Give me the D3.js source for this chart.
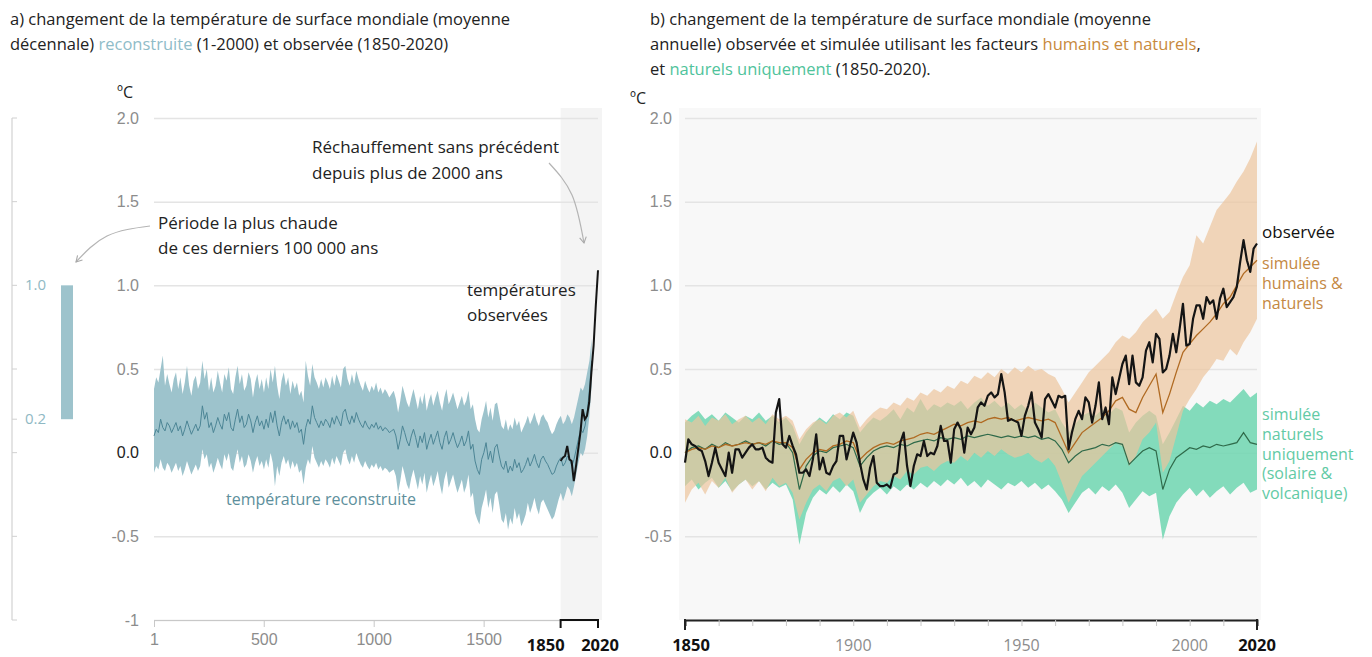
<!DOCTYPE html>
<html>
<head>
<meta charset="utf-8">
<script src="https://cdn.jsdelivr.net/npm/d3@7"></script>
<style>
  body { margin: 0; background: #fff; }
  svg { font-family: "Open Sans", Lato, sans-serif; }
</style>
</head>
<body>
<svg id="chart" width="1372" height="657"></svg>
<script>
// ---------- data ----------
var yTickVals = [-1, -0.5, 0, 0.5, 1, 1.5, 2];
var yTickLabels = ["-1", "-0.5", "0.0", "0.5", "1.0", "1.5", "2.0"];
var xTicksA = [1, 500, 1000, 1500];
var xTicksB = [1900, 1950, 2000];

// panel a: reconstruction, decadal, years 1, 11, 21 ... 1991
var reconMean = [
  0.10, 0.14, 0.12, 0.20, 0.15, 0.13, 0.18, 0.16, 0.12, 0.15,
  0.18, 0.13, 0.16, 0.10, 0.14, 0.19, 0.15, 0.11, 0.14, 0.17,
  0.13, 0.16, 0.28, 0.20, 0.24, 0.15, 0.18, 0.12, 0.16, 0.21,
  0.17, 0.14, 0.23, 0.19, 0.24, 0.15, 0.13, 0.20, 0.26, 0.18,
  0.22, 0.15, 0.17, 0.23, 0.19, 0.12, 0.18, 0.22, 0.16, 0.19,
  0.14, 0.20, 0.15, 0.24, 0.18, 0.25, 0.16, 0.10, 0.18, 0.22,
  0.17, 0.20, 0.14, 0.19, 0.15, 0.18, 0.12, 0.14, 0.05, 0.15,
  0.20, 0.17, 0.28, 0.21, 0.18, 0.15, 0.19, 0.16, 0.20, 0.18,
  0.15, 0.21, 0.17, 0.22, 0.19, 0.16, 0.24, 0.26, 0.20, 0.17,
  0.22, 0.18, 0.24, 0.20, 0.17, 0.15, 0.19, 0.16, 0.14, 0.17,
  0.15, 0.18, 0.14, 0.16, 0.13, 0.15, 0.14, 0.12, 0.13, 0.14,
  0.10, 0.02, 0.08, 0.16, 0.12, 0.07, 0.04, 0.10, 0.14, 0.09,
  0.03, 0.10, 0.06, 0.12, 0.02, 0.07, 0.11, 0.05, 0.09, 0.13,
  0.06, 0.02, 0.09, 0.13, 0.05, 0.08, 0.12, 0.07, 0.03, 0.06,
  0.10, 0.04, 0.07, 0.13, 0.02, 0.05, -0.05, -0.10, -0.13, -0.04,
  0.00, 0.06, -0.04, 0.01, -0.06, 0.03, 0.05, -0.02, -0.08, -0.10,
  -0.05, -0.12, -0.08, -0.11, -0.04, -0.09, -0.06, -0.12, -0.10, -0.07,
  -0.03, -0.08, -0.05, -0.01, -0.06, -0.09, -0.04, -0.02, -0.05, -0.07,
  -0.10, -0.13, -0.12, -0.08, -0.05, -0.03, -0.08, -0.06, -0.02, -0.04,
  -0.08, -0.04, 0.02, 0.08, 0.14, 0.12, 0.16, 0.24, 0.38, 0.55
];
var reconHi = [
  0.38, 0.45, 0.42, 0.50, 0.58, 0.40, 0.47, 0.41, 0.36, 0.44,
  0.48, 0.38, 0.45, 0.35, 0.42, 0.52, 0.40, 0.34, 0.43, 0.46,
  0.38, 0.42, 0.55, 0.44, 0.50, 0.37, 0.45, 0.36, 0.40, 0.49,
  0.42, 0.36, 0.47, 0.43, 0.51, 0.38, 0.35, 0.45, 0.52, 0.41,
  0.47, 0.37, 0.40, 0.48, 0.44, 0.33, 0.42, 0.47, 0.38, 0.44,
  0.36, 0.45, 0.38, 0.50, 0.42, 0.52, 0.40, 0.32, 0.43, 0.48,
  0.40, 0.45, 0.35, 0.43, 0.38, 0.42, 0.34, 0.37, 0.30, 0.55,
  0.46, 0.40, 0.53, 0.45, 0.42, 0.38, 0.44, 0.39, 0.45, 0.42,
  0.38, 0.46, 0.40, 0.47, 0.43, 0.39, 0.50, 0.52, 0.44, 0.40,
  0.47, 0.41, 0.49, 0.44, 0.40, 0.37, 0.43, 0.39, 0.36, 0.40,
  0.37, 0.42, 0.36, 0.39, 0.35, 0.38, 0.36, 0.33, 0.35, 0.37,
  0.32, 0.24, 0.31, 0.40, 0.35, 0.30, 0.27, 0.33, 0.38, 0.32,
  0.26, 0.34, 0.29, 0.36, 0.25, 0.31, 0.35, 0.28, 0.33, 0.37,
  0.30, 0.25, 0.33, 0.38, 0.29, 0.32, 0.36, 0.31, 0.26, 0.30,
  0.34, 0.28, 0.31, 0.37, 0.26, 0.29, 0.20, 0.14, 0.12, 0.20,
  0.25, 0.31, 0.21, 0.27, 0.19, 0.29, 0.30, 0.23, 0.16, 0.14,
  0.20, 0.13, 0.17, 0.14, 0.21, 0.16, 0.19, 0.12, 0.15, 0.18,
  0.22, 0.17, 0.20, 0.24, 0.19, 0.16, 0.21, 0.23, 0.20, 0.18,
  0.14, 0.11, 0.13, 0.17, 0.20, 0.22, 0.17, 0.19, 0.23, 0.21,
  0.17, 0.21, 0.27, 0.33, 0.39, 0.37, 0.41, 0.48, 0.55, 0.68
];
var reconLo = [
  -0.12, -0.08, -0.10, -0.04, -0.09, -0.11, -0.06, -0.08, -0.12, -0.09,
  -0.06, -0.11, -0.08, -0.14, -0.10, -0.05, -0.09, -0.13, -0.10, -0.07,
  -0.11, -0.08, 0.02, -0.04, -0.01, -0.09, -0.06, -0.12, -0.08, -0.03,
  -0.07, -0.10, -0.01, -0.05, 0.00, -0.09, -0.11, -0.04, 0.02, -0.06,
  -0.02, -0.09, -0.07, -0.01, -0.05, -0.12, -0.06, -0.02, -0.08, -0.05,
  -0.10, -0.04, -0.09, 0.00, -0.06, -0.20, -0.08, -0.14, -0.06, -0.02,
  -0.07, -0.04, -0.10, -0.05, -0.09, -0.06, -0.12, -0.10, -0.19, -0.09,
  -0.04, -0.07, 0.04, -0.03, -0.06, -0.09, -0.05, -0.08, -0.04, -0.06,
  -0.09, -0.03, -0.07, -0.02, -0.05, -0.08, 0.00, 0.02, -0.04, -0.07,
  -0.02, -0.06, 0.00, -0.04, -0.07, -0.09, -0.05, -0.08, -0.10, -0.07,
  -0.09, -0.06, -0.10, -0.08, -0.11, -0.09, -0.10, -0.12, -0.11, -0.10,
  -0.14, -0.24, -0.17, -0.08, -0.13, -0.19, -0.22, -0.15, -0.10, -0.16,
  -0.22, -0.14, -0.19, -0.12, -0.24, -0.18, -0.13, -0.20, -0.16, -0.11,
  -0.19, -0.25, -0.16, -0.11, -0.21, -0.17, -0.13, -0.19, -0.24, -0.20,
  -0.16, -0.24, -0.20, -0.13, -0.27, -0.24, -0.36, -0.40, -0.43, -0.33,
  -0.28, -0.22, -0.33, -0.27, -0.36, -0.25, -0.23, -0.31, -0.40, -0.42,
  -0.36, -0.46, -0.39, -0.43, -0.33, -0.40, -0.36, -0.44, -0.41, -0.37,
  -0.30, -0.36, -0.32, -0.27, -0.33, -0.37, -0.30, -0.28, -0.31, -0.34,
  -0.37, -0.40, -0.38, -0.33, -0.28, -0.24, -0.29, -0.25, -0.20, -0.22,
  -0.26, -0.20, -0.13, -0.06, 0.00, -0.02, 0.02, 0.10, 0.22, 0.40
];
// panel a: observed decadal means, 1850 ... 2020
var obsDecYears = [1850, 1860, 1870, 1880, 1890, 1900, 1910, 1920, 1930, 1940, 1950, 1960, 1970, 1980, 1990, 2000, 2010, 2020];
var obsDecimal = [-0.05, -0.03, -0.02, 0.04, -0.04, -0.05, -0.17, -0.08, 0.02, 0.12, 0.26, 0.20, 0.22, 0.30, 0.48, 0.64, 0.88, 1.09];

// panel b: observed annual 1850-2020
var obsAnnual = [
  -0.06, 0.08, 0.05, 0.04, 0.02, 0.01, -0.05, -0.14, -0.06, 0.03,
  -0.06, -0.10, -0.14, 0.00, -0.12, 0.02, 0.02, -0.03, 0.00, 0.03,
  0.05, 0.02, 0.02, 0.03, -0.03, -0.05, -0.06, 0.24, 0.32, 0.05,
  0.03, 0.10, 0.04, -0.01, -0.12, -0.12, -0.10, -0.14, -0.04, 0.11,
  -0.10, -0.03, -0.12, -0.13, -0.08, -0.05, 0.10, 0.10, -0.04, 0.04,
  0.12, 0.06, -0.06, -0.16, -0.22, -0.09, -0.02, -0.18, -0.20, -0.20,
  -0.19, -0.21, -0.13, -0.12, 0.06, 0.12, -0.08, -0.20, -0.08, -0.01,
  -0.02, 0.07, -0.02, 0.00, -0.01, 0.04, 0.16, 0.07, 0.07, -0.06,
  0.14, 0.18, 0.14, 0.00, 0.15, 0.11, 0.15, 0.27, 0.30, 0.28,
  0.34, 0.36, 0.33, 0.35, 0.47, 0.36, 0.19, 0.20, 0.19, 0.18,
  0.10, 0.22, 0.28, 0.36, 0.18, 0.14, 0.09, 0.32, 0.35, 0.31,
  0.27, 0.34, 0.33, 0.34, 0.02, 0.12, 0.20, 0.25, 0.20, 0.33,
  0.30, 0.18, 0.28, 0.42, 0.20, 0.27, 0.17, 0.45, 0.35, 0.44,
  0.53, 0.58, 0.41, 0.58, 0.42, 0.40, 0.45, 0.61, 0.66, 0.54,
  0.71, 0.68, 0.48, 0.50, 0.58, 0.71, 0.60, 0.74, 0.89, 0.64,
  0.65, 0.80, 0.88, 0.88, 0.80, 0.93, 0.89, 0.91, 0.80, 0.92,
  0.98, 0.87, 0.90, 0.93, 0.99, 1.14, 1.27, 1.15, 1.08, 1.22,
  1.25
];
// panel b: simulations, every 2 years 1850-2020
var hnMean = [
  0.00, 0.02, 0.03, 0.02, 0.04, 0.03, 0.05, 0.04, 0.05, 0.06,
  0.05, 0.06, 0.05, 0.07, 0.06, 0.06, 0.03, -0.10, -0.04, 0.00,
  0.02, 0.01, 0.04, 0.05, 0.07, 0.06, -0.04, 0.00, 0.03, 0.05,
  0.06, 0.05, 0.07, 0.08, 0.09, 0.11, 0.12, 0.11, 0.13, 0.15,
  0.17, 0.16, 0.18, 0.19, 0.18, 0.20, 0.21, 0.20, 0.21, 0.19,
  0.20, 0.21, 0.20, 0.19, 0.20, 0.18, 0.09, 0.00, 0.06, 0.12,
  0.15, 0.18, 0.21, 0.25, 0.31, 0.33, 0.26, 0.24, 0.33, 0.40,
  0.47, 0.24, 0.35, 0.48, 0.60, 0.65, 0.70, 0.74, 0.78, 0.83,
  0.89, 0.93, 1.00, 1.07, 1.11, 1.15
];
var hnHi = [
  0.20, 0.18, 0.22, 0.16, 0.21, 0.19, 0.23, 0.17, 0.20, 0.22,
  0.18, 0.21, 0.17, 0.23, 0.20, 0.22, 0.19, 0.08, 0.14, 0.18,
  0.20, 0.17, 0.22, 0.24, 0.21, 0.25, 0.15, 0.20, 0.24, 0.27,
  0.26, 0.30, 0.28, 0.33, 0.31, 0.36, 0.34, 0.38, 0.36, 0.40,
  0.38, 0.43, 0.41, 0.46, 0.44, 0.48, 0.45, 0.50, 0.47, 0.51,
  0.48, 0.52, 0.49, 0.50, 0.47, 0.45, 0.38, 0.30, 0.36, 0.42,
  0.48, 0.52, 0.56, 0.60, 0.66, 0.70, 0.68, 0.72, 0.78, 0.82,
  0.86, 0.80, 0.84, 0.95, 1.05, 1.12, 1.30, 1.25, 1.35, 1.45,
  1.50, 1.55, 1.62, 1.68, 1.76, 1.86
];
var hnLo = [
  -0.30, -0.22, -0.18, -0.25, -0.17, -0.21, -0.15, -0.24, -0.19, -0.16,
  -0.22, -0.17, -0.23, -0.15, -0.20, -0.18, -0.24, -0.40, -0.30, -0.22,
  -0.19, -0.23, -0.17, -0.15, -0.20, -0.16, -0.30, -0.25, -0.20, -0.17,
  -0.18, -0.14, -0.16, -0.11, -0.13, -0.09, -0.08, -0.11, -0.07, -0.05,
  -0.06, -0.02, -0.05, 0.00, -0.03, 0.01, -0.02, 0.02, -0.01, -0.03,
  -0.02, 0.00, -0.04, -0.06, -0.03, -0.08, -0.18, -0.30, -0.22, -0.14,
  -0.10, -0.06, -0.02, 0.02, 0.06, 0.04, -0.08, -0.02, 0.08, 0.12,
  0.18, -0.12, -0.05, 0.10, 0.25, 0.32, 0.38, 0.45, 0.50, 0.56,
  0.55, 0.62, 0.58, 0.66, 0.72, 0.80
];
var natMean = [
  0.00, 0.03, 0.04, 0.02, 0.05, 0.03, 0.06, 0.04, 0.05, 0.07,
  0.05, 0.06, 0.04, 0.07, 0.05, 0.06, 0.00, -0.22, -0.08, -0.02,
  0.01, 0.00, 0.03, 0.04, 0.05, 0.03, -0.08, -0.03, 0.01, 0.03,
  0.04, 0.03, 0.05, 0.04, 0.06, 0.07, 0.08, 0.07, 0.09, 0.08,
  0.09, 0.08, 0.10, 0.09, 0.10, 0.11, 0.10, 0.09, 0.10, 0.09,
  0.10, 0.09, 0.10, 0.08, 0.09, 0.07, 0.02, -0.06, -0.02, 0.01,
  0.02, 0.03, 0.05, 0.04, 0.06, 0.05, -0.07, -0.03, 0.01, 0.03,
  0.01, -0.22, -0.10, -0.03, 0.00, 0.03, 0.02, 0.04, 0.03, 0.05,
  0.04, 0.05, 0.06, 0.12, 0.06, 0.05
];
var natHi = [
  0.18, 0.22, 0.25, 0.20, 0.23, 0.19, 0.24, 0.21, 0.18, 0.22,
  0.20, 0.24, 0.19, 0.22, 0.18, 0.21, 0.16, 0.05, 0.12, 0.17,
  0.21, 0.18, 0.23, 0.20, 0.24, 0.22, 0.12, 0.17, 0.21, 0.19,
  0.22, 0.26, 0.20, 0.27, 0.24, 0.32, 0.25, 0.29, 0.27, 0.30,
  0.28, 0.31, 0.26, 0.30, 0.33, 0.28, 0.31, 0.27, 0.30, 0.26,
  0.29, 0.25, 0.30, 0.27, 0.24, 0.26, 0.18, 0.12, 0.17, 0.22,
  0.24, 0.22, 0.26, 0.23, 0.27, 0.25, 0.12, 0.18, 0.22, 0.25,
  0.22, 0.05, 0.12, 0.20, 0.28, 0.25, 0.30, 0.27, 0.31, 0.29,
  0.32, 0.30, 0.34, 0.38, 0.33, 0.36
];
var natLo = [
  -0.20, -0.16, -0.22, -0.18, -0.15, -0.21, -0.17, -0.23, -0.19, -0.16,
  -0.20, -0.17, -0.22, -0.18, -0.21, -0.19, -0.28, -0.55, -0.36, -0.27,
  -0.22, -0.25, -0.20, -0.24, -0.19, -0.23, -0.36, -0.28, -0.24, -0.21,
  -0.25, -0.20, -0.23, -0.19, -0.22, -0.18, -0.21, -0.17, -0.20, -0.16,
  -0.19, -0.15, -0.20, -0.17, -0.21, -0.16, -0.19, -0.22, -0.18, -0.20,
  -0.17, -0.21, -0.18, -0.22, -0.19, -0.23, -0.28, -0.36, -0.30, -0.24,
  -0.21, -0.25, -0.20, -0.23, -0.19, -0.24, -0.33, -0.28, -0.23, -0.26,
  -0.24, -0.52, -0.38, -0.30, -0.25, -0.21, -0.26, -0.22, -0.27, -0.23,
  -0.20, -0.25, -0.21, -0.18, -0.24, -0.22
];
// mini bar: warmest period of last 100 000 years
var warmRange = [0.2, 1.0];

var reconYears = d3.range(1, 2001, 10);
var annualYears = d3.range(1850, 2021);
var simYears = d3.range(1850, 2021, 2);

// ---------- setup ----------
var svg = d3.select("#chart");
var grey = "#8c8c8c";
var labelY = 651;

var defs = svg.append("defs");
defs.append("marker")
  .attr("id", "arr")
  .attr("viewBox", "0 0 10 10")
  .attr("refX", 8).attr("refY", 5)
  .attr("markerWidth", 7).attr("markerHeight", 7)
  .attr("orient", "auto")
  .append("path")
  .attr("d", "M1,1 L8,5 L1,9")
  .attr("fill", "none")
  .attr("stroke", "#a8a8a8")
  .attr("stroke-width", 1.3);

// scales
var yS = d3.scaleLinear().domain([-1, 2]).range([620, 118]);
var xA = d3.scaleLinear().domain([1, 2020]).range([154, 598]);
var xB = d3.scaleLinear().domain([1850, 2020]).range([685, 1257]);

function fmtY(d) { return yTickLabels[yTickVals.indexOf(d)]; }

// ---------- panel a ----------
var gA = svg.append("g");

gA.append("rect")
  .attr("x", xA(1850)).attr("y", 108)
  .attr("width", xA(2020) - xA(1850) + 4).attr("height", yS(-1) - 108)
  .attr("fill", "#f4f4f4");

var axA = gA.append("g")
  .attr("transform", "translate(" + xA(1) + ",0)")
  .call(d3.axisLeft(yS).tickValues(yTickVals).tickFormat(fmtY)
    .tickSize(-(xA(2020) - xA(1))).tickPadding(15));
axA.select(".domain").remove();
axA.selectAll("line").attr("stroke", "#e4e4e4").attr("stroke-width", 1.5);
axA.selectAll("text")
  .attr("font-size", 16)
  .attr("fill", function(d) { return d === 0 ? "#222" : grey; });

// band + mean
var reconArea = d3.area()
  .x(function(d, i) { return xA(reconYears[i]); })
  .y0(function(d, i) { return yS(reconLo[i]); })
  .y1(function(d, i) { return yS(reconHi[i]); });
gA.append("path").datum(reconMean)
  .attr("d", reconArea)
  .attr("fill", "#9dc3cc");
gA.append("path").datum(reconMean)
  .attr("d", d3.line()
    .x(function(d, i) { return xA(reconYears[i]); })
    .y(function(d) { return yS(d); }))
  .attr("fill", "none")
  .attr("stroke", "#4c8595")
  .attr("stroke-width", 1);
gA.append("path").datum(obsDecimal)
  .attr("d", d3.line()
    .x(function(d, i) { return xA(obsDecYears[i]); })
    .y(function(d) { return yS(d); }))
  .attr("fill", "none")
  .attr("stroke", "#151515")
  .attr("stroke-width", 2);

// x axis a
var xAxA = gA.append("g")
  .attr("transform", "translate(0," + yS(-1) + ")")
  .call(d3.axisBottom(xA).tickValues(xTicksA).tickFormat(d3.format("d")).tickSize(7).tickPadding(7));
xAxA.select(".domain").attr("stroke", "#c8c8c8");
xAxA.selectAll("line").attr("stroke", "#c8c8c8");
xAxA.selectAll("text").attr("font-size", 16).attr("fill", grey);

// bracket 1850-2020
gA.append("path")
  .attr("d", "M" + xA(1850) + "," + (yS(-1) + 8) + "V" + yS(-1) + "H" + xA(2020) + "V" + (yS(-1) + 8))
  .attr("fill", "none").attr("stroke", "#111").attr("stroke-width", 2);
gA.selectAll(".bl").data([1850, 2020]).enter().append("text")
  .attr("x", function(d) { return xA(d); })
  .attr("y", labelY)
  .attr("text-anchor", function(d) { return d === 1850 ? "end" : "middle"; })
  .attr("dx", function(d) { return d === 1850 ? 4 : 2; })
  .attr("font-size", 16.5).attr("font-weight", "bold").attr("fill", "#111")
  .text(function(d) { return d; });

// mini bar axis on the far left
var gM = svg.append("g");
gM.append("line")
  .attr("x1", 12).attr("x2", 12).attr("y1", yS(2)).attr("y2", yS(-1))
  .attr("stroke", "#d6d6d6").attr("stroke-width", 1.3);
gM.selectAll(".mt").data(yTickVals.concat([warmRange[0]])).enter().append("line")
  .attr("x1", 12).attr("x2", 17)
  .attr("y1", function(d) { return yS(d); }).attr("y2", function(d) { return yS(d); })
  .attr("stroke", "#d0d0d0");
gM.append("rect")
  .attr("x", 61).attr("width", 12)
  .attr("y", yS(warmRange[1])).attr("height", yS(warmRange[0]) - yS(warmRange[1]))
  .attr("fill", "#9dc3cc");
gM.selectAll(".ml").data(warmRange).enter().append("text")
  .attr("x", 25).attr("y", function(d) { return yS(d) + 5; })
  .attr("font-size", 15).attr("fill", "#8fb9c4")
  .text(function(d) { return d.toFixed(1); });

// annotations a
function addText(g, x, y, lines, size, color, lh) {
  var t = g.append("text").attr("x", x).attr("y", y)
    .attr("font-size", size).attr("fill", color);
  lines.forEach(function(s, i) {
    t.append("tspan").attr("x", x).attr("dy", i === 0 ? 0 : lh).text(s);
  });
  return t;
}
addText(gA, 312, 153, ["Réchauffement sans précédent", "depuis plus de 2000 ans"], 17, "#222", 26);
addText(gA, 158, 229, ["Période la plus chaude", "de ces derniers 100 000 ans"], 17, "#222", 25);
addText(gA, 467, 296, ["températures", "observées"], 17, "#222", 25);
addText(gA, 226, 505, ["température reconstruite"], 16, "#5d8f9c", 0);

var curve = d3.line().curve(d3.curveNatural);
gA.append("path")
  .attr("d", curve([[549, 163], [572, 195], [584, 243]]))
  .attr("fill", "none").attr("stroke", "#b4b4b4").attr("stroke-width", 1.2)
  .attr("marker-end", "url(#arr)");
gA.append("path")
  .attr("d", curve([[150, 226], [107, 236], [76, 262]]))
  .attr("fill", "none").attr("stroke", "#b4b4b4").attr("stroke-width", 1.2)
  .attr("marker-end", "url(#arr)");

// units
svg.append("text").attr("x", 117).attr("y", 98).attr("font-size", 16).attr("fill", "#222").text("ºC");
svg.append("text").attr("x", 630).attr("y", 104).attr("font-size", 16).attr("fill", "#222").text("ºC");

// titles
var tA = svg.append("text").attr("x", 10).attr("y", 25).attr("font-size", 16.5).attr("fill", "#222");
tA.append("tspan").attr("x", 10).text("a) changement de la température de surface mondiale (moyenne");
var tA2 = svg.append("text").attr("x", 10).attr("y", 50).attr("font-size", 16.5).attr("fill", "#222");
tA2.append("tspan").text("décennale) ");
tA2.append("tspan").attr("fill", "#8fbcc8").text("reconstruite");
tA2.append("tspan").text(" (1-2000) et observée (1850-2020)");

var tB = svg.append("text").attr("x", 650).attr("y", 25).attr("font-size", 16.5).attr("fill", "#222")
  .text("b) changement de la température de surface mondiale (moyenne");
var tB2 = svg.append("text").attr("x", 650).attr("y", 50).attr("font-size", 16.5).attr("fill", "#222");
tB2.append("tspan").text("annuelle) observée et simulée utilisant les facteurs ");
tB2.append("tspan").attr("fill", "#c8893c").text("humains et naturels");
tB2.append("tspan").text(",");
var tB3 = svg.append("text").attr("x", 650).attr("y", 75).attr("font-size", 16.5).attr("fill", "#222");
tB3.append("tspan").text("et ");
tB3.append("tspan").attr("fill", "#4fc39b").text("naturels uniquement");
tB3.append("tspan").text(" (1850-2020).");

// ---------- panel b ----------
var gB = svg.append("g");
gB.append("rect")
  .attr("x", xB(1850) - 6).attr("y", 108)
  .attr("width", xB(2020) - xB(1850) + 10).attr("height", yS(-1) - 108)
  .attr("fill", "#f8f8f8");

var axB = gB.append("g")
  .attr("transform", "translate(" + xB(1850) + ",0)")
  .call(d3.axisLeft(yS).tickValues(yTickVals)
    .tickFormat(function(d) { return d === -1 ? "" : fmtY(d); })
    .tickSize(-(xB(2020) - xB(1850))).tickPadding(13));
axB.select(".domain").remove();
axB.selectAll("line").attr("stroke", "#e4e4e4").attr("stroke-width", 1.5);
axB.selectAll("text")
  .attr("font-size", 16)
  .attr("fill", function(d) { return d === 0 ? "#222" : grey; });

function band(lo, hi) {
  return d3.area()
    .x(function(d, i) { return xB(simYears[i]); })
    .y0(function(d, i) { return yS(lo[i]); })
    .y1(function(d, i) { return yS(hi[i]); });
}
function simLine() {
  return d3.line()
    .x(function(d, i) { return xB(simYears[i]); })
    .y(function(d) { return yS(d); });
}
gB.append("path").datum(natMean).attr("d", band(natLo, natHi))
  .attr("fill", "#6fd6b0").attr("opacity", 0.85);
gB.append("path").datum(hnMean).attr("d", band(hnLo, hnHi))
  .attr("fill", "#ecc59c").attr("opacity", 0.7);
gB.append("path").datum(natMean).attr("d", simLine())
  .attr("fill", "none").attr("stroke", "#2f6a4a").attr("stroke-width", 1.2);
gB.append("path").datum(hnMean).attr("d", simLine())
  .attr("fill", "none").attr("stroke", "#b06a22").attr("stroke-width", 1.3);
gB.append("path").datum(obsAnnual)
  .attr("d", d3.line()
    .x(function(d, i) { return xB(annualYears[i]); })
    .y(function(d) { return yS(d); }))
  .attr("fill", "none").attr("stroke", "#141414").attr("stroke-width", 2.2)
  .attr("stroke-linejoin", "round");

// x axis b
var xAxB = gB.append("g")
  .attr("transform", "translate(0," + yS(-1) + ")")
  .call(d3.axisBottom(xB).tickValues(d3.range(1860, 2020, 10)).tickSize(6).tickFormat(""));
xAxB.select(".domain").attr("stroke", "#222").attr("stroke-width", 2);
xAxB.selectAll("line").attr("stroke", "#c8c8c8");
gB.selectAll(".end").data([1850, 2020]).enter().append("line")
  .attr("x1", function(d) { return xB(d); }).attr("x2", function(d) { return xB(d); })
  .attr("y1", yS(-1) - 1).attr("y2", yS(-1) + 10)
  .attr("stroke", "#222").attr("stroke-width", 2);
gB.selectAll(".xl").data(xTicksB).enter().append("text")
  .attr("x", function(d) { return xB(d); }).attr("y", labelY)
  .attr("text-anchor", "middle").attr("font-size", 16).attr("fill", grey)
  .text(function(d) { return d; });
gB.selectAll(".xb").data([1850, 2020]).enter().append("text")
  .attr("x", function(d) { return xB(d); }).attr("y", labelY)
  .attr("text-anchor", "middle").attr("dx", function(d) { return d === 1850 ? 6 : 0; })
  .attr("font-size", 16.5).attr("font-weight", "bold").attr("fill", "#111")
  .text(function(d) { return d; });

// legend labels b
addText(gB, 1262, 238, ["observée"], 17, "#111", 0);
addText(gB, 1262, 269, ["simulée", "humains &", "naturels"], 16, "#c48843", 19.8);
addText(gB, 1262, 420, ["simulée", "naturels", "uniquement", "(solaire &", "volcanique)"], 16, "#62caa5", 19.8);
</script>
</body>
</html>
